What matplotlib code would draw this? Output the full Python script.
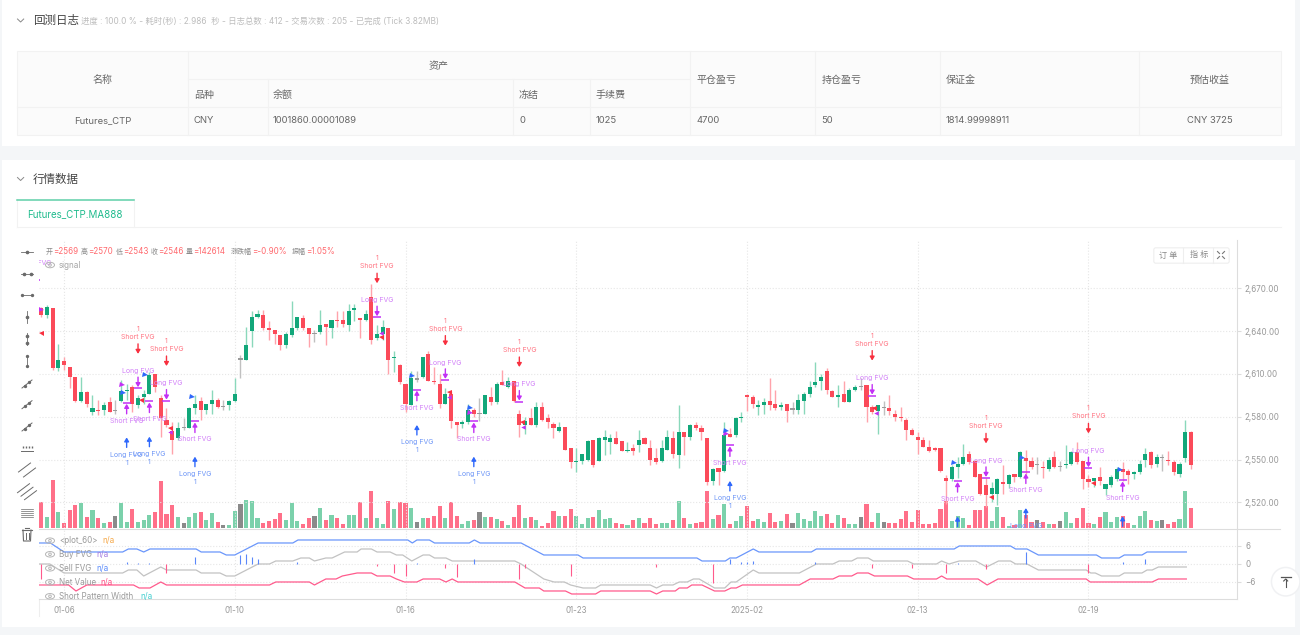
import matplotlib
matplotlib.use("Agg")
import matplotlib.pyplot as plt
from matplotlib.patches import Rectangle, FancyBboxPatch, Circle, Ellipse

FONT = ["Inter", "Noto Sans CJK SC", "DejaVu Sans"]
plt.rcParams["font.family"] = FONT

# --- market data ---
opens = [2656,2651,2656,2614,2619,2615,2608,2591,2597,2583,2585,2585,2590,2584,2591,2598,2601,2588,2594,2596,
 2610,2593,2578,2570,2565,2572,2572,2586,2591,2585,2589,2592,2587,2588,2591,2620,2620,2640,2650,2651,
 2642,2641,2637,2630,2637,2642,2649,2642,2638,2639,2645,2642,2648,2648,2644,2655,2649,2648,2664,2635,
 2638,2642,2621,2616,2603,2588,2606,2608,2624,2605,2603,2589,2596,2576,2575,2576,2585,2582,2582,2594,
 2590,2604,2601,2605,2582,2574,2579,2574,2587,2579,2575,2570,2573,2558,2548,2549,2550,2564,2549,2564,
 2562,2565,2563,2556,2558,2560,2565,2558,2551,2549,2557,2565,2553,2569,2566,2574,2572,2565,2535,2544,
 2542,2568,2567,2579,2595,2594,2587,2588,2591,2589,2587,2589,2585,2585,2591,2596,2602,2605,2612,2598,
 2594,2596,2590,2599,2601,2602,2587,2584,2586,2586,2582,2580,2578,2571,2566,2564,2559,2558,2558,2537,
 2536,2545,2547,2554,2549,2540,2532,2526,2526,2534,2533,2540,2538,2551,2549,2546,2545,2543,2552,2545,
 2546,2547,2555,2549,2536,2535,2538,2529,2532,2536,2543,2542,2540,2541,2550,2555,2547,2551,2550,2548,
 2540,2551,2569]
highs = [2657,2658,2656,2631,2622,2615,2608,2608,2598,2595,2592,2590,2594,2592,2606,2603,2602,2595,2599,2611,
 2610,2595,2586,2576,2576,2579,2587,2595,2594,2589,2599,2593,2592,2592,2607,2623,2643,2654,2655,2655,
 2647,2641,2637,2639,2661,2650,2651,2642,2641,2655,2645,2648,2654,2654,2659,2659,2649,2655,2673,2644,
 2648,2642,2626,2617,2603,2612,2612,2622,2626,2615,2610,2600,2598,2576,2578,2589,2586,2593,2595,2601,
 2604,2613,2608,2605,2585,2580,2586,2590,2590,2582,2576,2576,2573,2558,2558,2554,2564,2564,2566,2571,
 2568,2570,2563,2562,2561,2571,2566,2564,2558,2564,2571,2570,2588,2569,2575,2576,2574,2565,2544,2544,
 2576,2572,2580,2583,2596,2595,2592,2593,2607,2599,2590,2589,2590,2596,2597,2605,2618,2610,2614,2599,
 2602,2605,2600,2602,2607,2602,2588,2588,2591,2595,2585,2587,2579,2572,2569,2566,2564,2559,2558,2539,
 2546,2552,2561,2556,2550,2540,2537,2534,2537,2546,2540,2540,2556,2557,2552,2552,2549,2552,2556,2549,
 2560,2556,2562,2549,2539,2537,2545,2533,2539,2545,2548,2543,2542,2550,2558,2556,2554,2554,2556,2550,
 2548,2578,2570]
lows = [2650,2649,2613,2612,2613,2600,2590,2590,2587,2581,2581,2581,2583,2582,2590,2592,2583,2586,2589,2596,
 2597,2566,2573,2554,2564,2571,2572,2582,2578,2582,2582,2586,2585,2585,2590,2607,2620,2629,2649,2641,
 2634,2631,2627,2628,2636,2641,2641,2629,2632,2638,2630,2635,2643,2643,2640,2647,2635,2647,2631,2634,
 2634,2610,2611,2603,2583,2588,2604,2607,2605,2603,2586,2589,2572,2565,2572,2575,2580,2577,2582,2588,
 2589,2602,2600,2590,2566,2568,2574,2573,2577,2572,2565,2569,2557,2544,2541,2547,2549,2545,2549,2553,
 2554,2561,2556,2555,2553,2555,2561,2546,2547,2548,2557,2551,2544,2553,2564,2571,2564,2532,2532,2532,
 2541,2566,2566,2576,2584,2586,2581,2582,2585,2585,2585,2576,2582,2582,2582,2594,2601,2599,2596,2594,
 2587,2590,2590,2598,2599,2576,2582,2568,2581,2581,2577,2577,2564,2567,2554,2559,2555,2556,2541,2519,
 2535,2537,2546,2547,2538,2525,2517,2520,2518,2526,2530,2534,2537,2540,2543,2540,2537,2542,2544,2542,
 2544,2546,2547,2529,2531,2531,2532,2525,2531,2535,2535,2533,2536,2540,2545,2544,2545,2542,2546,2539,
 2538,2548,2543]
closes = [2651,2657,2614,2620,2616,2608,2591,2597,2589,2586,2584,2588,2583,2584,2598,2599,2589,2593,2596,2609,
 2601,2579,2574,2564,2572,2572,2586,2589,2585,2589,2592,2587,2587,2591,2596,2620,2630,2650,2652,2642,
 2641,2638,2630,2638,2642,2650,2642,2638,2638,2644,2643,2648,2647,2645,2654,2656,2648,2652,2634,2638,
 2643,2620,2622,2604,2589,2607,2606,2622,2605,2604,2589,2596,2577,2574,2576,2585,2582,2582,2595,2590,
 2603,2602,2605,2591,2574,2577,2574,2587,2578,2576,2572,2573,2557,2548,2549,2554,2563,2546,2565,2566,
 2565,2561,2556,2557,2556,2564,2561,2550,2548,2558,2566,2554,2569,2566,2574,2572,2569,2534,2543,2541,
 2567,2566,2579,2580,2594,2589,2588,2590,2588,2586,2588,2584,2585,2592,2596,2601,2604,2608,2599,2594,
 2595,2590,2599,2601,2601,2587,2583,2588,2586,2584,2580,2579,2571,2567,2564,2559,2556,2557,2542,2535,
 2545,2547,2552,2548,2538,2526,2525,2530,2536,2533,2539,2538,2555,2549,2545,2546,2544,2550,2545,2545,
 2547,2555,2548,2536,2534,2537,2535,2533,2538,2543,2541,2539,2541,2547,2554,2546,2552,2551,2549,2541,
 2547,2569,2546]
# volume in thousands of lots
volumes = [187,79,348,115,41,132,168,180,79,132,72,41,48,86,180,48,137,43,60,96,
 113,336,103,168,84,36,79,110,113,60,110,43,24,24,125,173,202,192,74,36,
 55,70,106,60,180,53,31,72,86,142,60,94,72,34,96,96,185,74,264,74,
 34,197,139,187,178,146,46,74,72,86,163,74,187,89,29,53,60,120,79,79,
 65,53,26,84,166,77,79,60,17,38,125,86,91,137,86,31,72,79,132,70,
 72,36,31,24,58,77,41,74,29,36,38,58,192,74,29,38,43,264,65,96,
 173,31,53,89,163,55,70,46,110,43,55,103,41,108,70,55,122,91,101,38,
 98,72,31,31,79,175,46,108,43,41,38,70,125,46,130,31,29,36,139,192,
 53,91,74,24,132,132,156,53,149,82,17,24,132,96,46,60,43,29,29,55,
 120,38,74,142,38,31,82,113,46,84,91,38,22,89,122,60,55,62,31,46,
 67,264,143]

price_ticks = [2520, 2550, 2580, 2610, 2640, 2670]
date_ticks = [4, 34, 64, 94, 124, 154, 184]
date_labels = ["01-06", "01-10", "01-16", "01-23", "2025-02", "02-13", "02-19"]

# signals: candle number and price at the arrow tip
short_i = [17, 22, 59, 71, 84, 146, 166, 184]
short_tip = [2624, 2615.5, 2673.5, 2629.8, 2614.8, 2619.3, 2561.3, 2568.3]
close_long_i = [-1, 17, 22, 59, 71, 84, 146, 166, 184]
close_long_tip = [2675.6, 2599.9, 2591.2, 2649.6, 2605.7, 2590.5, 2594.7, 2537, 2543.8]
close_short_i = [15, 19, 27, 66, 76, 121, 161, 173, 190]
close_short_tip = [2589.8, 2590.7, 2576.7, 2599, 2576.7, 2560, 2535, 2541, 2535.4]
long_i = [15, 19, 27, 66, 76, 121, 161, 173, 190]
long_tip = [2565.5, 2566, 2552, 2574.2, 2552, 2535, 2510, 2516, 2510.2]

tri_blue_i = [14.4, 18.3, 26.4, 65.2, 75.3, 120.3, 160.4, 172.4, 189.5]
tri_blue_p = [2596.4, 2609.2, 2594, 2608.5, 2585.8, 2570.2, 2547.3, 2550.8, 2542.6]
tri_purple_i = [0, 14.1, 75.4, 120.3]
tri_purple_p = [2654.8, 2602, 2582.3, 2567.9]
tri_red_i = [0, 17.6, 22.7, 59.7, 71.7, 84.4, 146.4, 166.8, 184.8]
tri_red_p = [2638.9, 2592, 2572.3, 2636, 2597.5, 2576.5, 2585.8, 2523.9, 2533.7]
tri_plum_i = [22.7, 59.7, 71.7, 84.7, 146.7]
tri_plum_p = [2569, 2638.4, 2594, 2573, 2582.8]

# lower pane, vertices of the three lines
blue_i = [-0.4,1.6,4,14.3,15.3,16.8,18,19.1,27.2,28.1,31.4,32.5,34,38.1,44.2,45.1,64.4,65.2,66,68.2,69.1,75.2,76.1,77.1,84.3,88.3,94.3,95.2,115.2,116.1,120.2,121,122.1,125.1,126.1,135.3,136.2,160.4,161.3,170.3,171.2,173.2,175.2,185.4,186.3,189.4,190.3,193.4,194.3,201.2]
blue_v = [7,7,4,4,5,5,4,5,5,4,4,3,3,7,7,8,8,7,8,8,7,7,8,7,7,3,3,2,2,1,1,2,2,5,4,4,5,5,6,6,5,5,3,3,2,2,3,3,4,4]
gray_i = [-0.4,1.5,4,14.3,15.3,16.8,18,21,22,27.2,28.1,31.4,32.5,34,38.1,40.1,41.2,44.2,45.6,47.1,48,50,51.1,53.3,55.5,56.2,58,59,61.3,62.4,63.5,65.1,67.1,68.2,69.1,71.1,72.2,83.2,84.3,88.3,90.1,91.9,93,95.2,97.4,98.3,107,108.1,109.2,111,112.1,113.5,114.6,115.6,118.3,120.1,121.2,122.1,125.1,126.1,133.2,136.2,139.1,140.2,142.4,143.4,145.3,146.2,152.2,153.3,157.3,158.2,159.5,161.3,164.2,166.1,168.2,170.3,171.2,173.2,175.2,183.6,184.4,185.2,186.3,189.4,190.3,193.4,194.3,195.2,196.3,201.2]
gray_v = [0,0,-3,-3,-2,-2,-4,-1,-2,-2,-3,-3,-4,-4,0,0,1,1,2,2,1,2,2,4,4,5,5,4,4,3,3,1,3,3,2,2,1,1,0,-5,-6,-6,-7,-8,-8,-7,-7,-8,-7,-7,-6,-6,-5,-5,-8,-8,-6,-6,-2,-3,-3,0,0,1,1,2,2,1,1,0,0,1,0,1,1,-1,1,1,0,0,-2,-2,-3,-3,-4,-4,-3,-3,-2,-2,-1,-1]
net_i = [-0.4,4.8,6.1,8,16.2,17.2,19.1,21,22,40.1,41.2,47.1,48,50,51.8,52.9,55.5,58,59,61.3,62.4,63.8,66,67.1,70,71.1,72.2,73.2,83.2,85,87.5,88.3,92.1,93.2,97.4,98.3,107,108.1,109.2,111.4,112.1,113.5,114.3,116.1,118.3,120.1,121.2,122.1,123.2,133.2,135.1,139.1,140.2,142.4,143.4,145.3,146.4,152.2,153.3,157.3,158.2,159.1,164.6,166.2,168.1,183.6,184.3,195.2,196.3,201.2]
net_v = [-7,-7,-9,-7,-7,-8,-8,-6,-7,-7,-6,-6,-7,-5,-5,-4,-3,-3,-4,-4,-5,-6,-6,-5,-5,-6,-5,-6,-6,-8,-8,-9,-9,-10,-10,-9,-9,-10,-9,-9,-8,-8,-7,-7,-9,-9,-8,-8,-7,-7,-5,-5,-4,-4,-3,-3,-4,-4,-5,-5,-4,-5,-5,-7,-5,-5,-6,-6,-5,-5]
buy_i = [15,17,19,27,35,36,37,38,45,66,76,121,123,124,125,136,161,173,190,194]
buy_v = [0.8,0.2,0.4,2.3,3,3.2,2.3,1.5,0.5,0.4,1.5,1.7,0.5,0.5,1,0.5,0.3,3.9,0.5,1.7]
sell_i = [0,22,59,62,64,71,73,84,85,93,108,118,146,153,159,166,184]
sell_v = [-5,-2.9,-0.7,-3.1,-3.9,-1.2,-4.4,-5,-1.2,-3.9,-0.9,-6.4,-1.2,-1.2,-2.9,-1.7,-2.9]
pane_ticks = [6, 0, -6]

RED, GREEN, GRAY = "#fb4a59", "#12a77a", "#9a9a9a"
WICK_RED, WICK_GREEN, WICK_GRAY = "#ffa3ab", "#8ad8bb", "#c0c0c0"
VOL_RED, VOL_GREEN, VOL_GRAY = "#ff7089", "#7bd1ab", "#8a8a8a"
PURPLE, BLUE = "#c230f5", "#2f68fb"

W, H = 1300, 635
fig = plt.figure(figsize=(W / 100, H / 100), dpi=100, facecolor="#f4f6f8")


def px_axes(left, top, right, bottom, **kw):
    return fig.add_axes([left / W, 1 - bottom / H, (right - left) / W, (bottom - top) / H], **kw)


# --- page: cards and table ---
bg = px_axes(0, 0, W, H)
bg.set_xlim(0, W)
bg.set_ylim(H, 0)
bg.axis("off")
bg.add_patch(Rectangle((2, 0), 1293, 145.6, fc="white", ec="none"))
bg.add_patch(Rectangle((2, 160), 1293, 467, fc="white", ec="none"))

LINE = "#f2f2f2"
bg.add_patch(Rectangle((16.6, 51), 1264, 83.7, fc="#fbfbfb", ec=LINE, lw=0.8))
for x in [187.5, 690, 815, 939.6, 1138.8]:
    bg.plot([x, x], [51, 134.7], color=LINE, lw=0.8)
for x in [267.6, 512.9, 590]:
    bg.plot([x, x], [79, 134.7], color=LINE, lw=0.8)
bg.plot([187.5, 690], [79, 79], color=LINE, lw=0.8)
bg.plot([16.6, 1280.6], [107.3, 107.3], color=LINE, lw=0.8)


def put(ax, x, y, s, size=6.8, color="#666666", ha="left", **kw):
    ax.text(x, y, s, fontsize=size, color=color, ha=ha, va="center", family=FONT, **kw)


put(bg, 33, 21, "回测日志", size=8.3, color="#444444", weight="medium")
put(bg, 81, 21.5, "进度 : 100.0 % - 耗时(秒) : 2.986  秒 - 日志总数 : 412 - 交易次数 : 205 - 已完成 (Tick 3.82MB)", size=6, color="#bdbdbd")
put(bg, 33, 180, "行情数据", size=8.3, color="#444444", weight="medium")
for cy in [20.5, 179]:
    bg.plot([17.5, 20.6, 23.7], [cy - 1.5, cy + 1.5, cy - 1.5], color="#888888", lw=0.7)

put(bg, 102.5, 80, "名称", size=7.2, ha="center")
put(bg, 439, 66.5, "资产", size=7.2, ha="center")
for x, s in [(194, "品种"), (273, "余额"), (519, "冻结"), (596, "手续费"), (696.5, "平仓盈亏"), (821.5, "持仓盈亏"), (946, "保证金")]:
    put(bg, x, 94.8 if x < 690 else 80, s, size=7.2)
put(bg, 1209.5, 80, "预估收益", size=7.2, ha="center")
put(bg, 102.5, 120.5, "Futures_CTP", ha="center")
for x, s in [(194, "CNY"), (273, "1001860.00001089"), (519, "0"), (596, "1025"), (696.5, "4700"), (821.5, "50"), (946, "1814.99998911")]:
    put(bg, x, 120.5, s)
put(bg, 1209.5, 120.5, "CNY 3725", ha="center")

# tab
bg.plot([16.6, 1280.6], [227, 227], color=LINE, lw=0.8)
bg.plot([16.6, 16.6], [199, 227], color=LINE, lw=0.8)
bg.plot([134, 134], [199, 227], color=LINE, lw=0.8)
bg.plot([16.6, 134], [199.5, 199.5], color="#5fcfa8", lw=1.1)
put(bg, 75.3, 214, "Futures_CTP.MA888", size=7, color="#1fbb8d", ha="center")
bg.plot([39, 1280], [528.5, 528.5], color="#dddddd", lw=0.8)
bg.plot([39, 39], [599, 616], color="#eeeeee", lw=0.8)

# --- candles and volume ---
ax_vol = px_axes(39, 240, 1237, 528.3)
ax = px_axes(39, 240, 1237, 528.3, sharex=ax_vol)
ax.patch.set_visible(False)
ax_vol.patch.set_visible(False)

days = list(range(len(closes)))
body_c, wick_c, vol_c = [], [], []
for o, c in zip(opens, closes):
    if c > o:
        body_c.append(GREEN); wick_c.append(WICK_GREEN); vol_c.append(VOL_GREEN)
    elif c < o:
        body_c.append(RED); wick_c.append(WICK_RED); vol_c.append(VOL_RED)
    else:
        body_c.append(GRAY); wick_c.append(WICK_GRAY); vol_c.append(VOL_GRAY)

ax_vol.bar(days, volumes, width=0.72, color=vol_c)
ax_vol.set_ylim(0, 143 * 288.3 / 20)
ax_vol.axis("off")

ax.vlines(days, lows, highs, colors=wick_c, lw=1, zorder=2)
body_low = [min(o, c) for o, c in zip(opens, closes)]
body_h = [max(abs(o - c), 0.8) for o, c in zip(opens, closes)]
ax.bar(days, body_h, bottom=body_low, width=0.72, color=body_c, zorder=3)

ax.set_xlim(-0.4, 210.1)
ax.set_ylim(2501.8, 2703.8)
ax.set_yticks(price_ticks)
ax.set_yticklabels([f"{p:,.2f}" for p in price_ticks])
ax.yaxis.tick_right()
ax.set_xticks(date_ticks)
ax.tick_params(axis="x", length=0, labelbottom=False)
ax.tick_params(axis="y", length=3, width=0.8, color="#dddddd", labelcolor="#999999", labelsize=5.8, pad=2)
ax.grid(True, ls=":", color="#e6e6e6", lw=0.8)
ax.set_axisbelow(True)
for name, sp in ax.spines.items():
    sp.set_visible(name == "right")
    sp.set_color("#dddddd")
    sp.set_linewidth(0.8)


# --- signals ---
def arrow(i, tip, dy, color, lw=1.0):
    ax.annotate("", xy=(i, tip), xytext=(0, dy), textcoords="offset pixels",
                arrowprops=dict(arrowstyle="-|>,head_width=0.15,head_length=0.25", color=color, lw=lw,
                                shrinkA=0, shrinkB=0, mutation_scale=9), zorder=6)


def label(i, tip, dy, s, color):
    ax.annotate(s, xy=(i, tip), xytext=(0, dy), textcoords="offset pixels", fontsize=5, color=color,
                ha="center", va="center", family=FONT, annotation_clip=False, clip_on=True, zorder=7)


for i, tip in zip(short_i, short_tip):
    arrow(i, tip, 10, "#f8303f")
    label(i, tip, 17, "Short FVG", "#ff7583")
    label(i, tip, 25, "1", "#ff7583")
for i, tip in zip(close_long_i, close_long_tip):
    arrow(i, tip + 0.8, 10, PURPLE)
    ax.plot([i], [tip], marker="_", ms=6, mew=1.1, color=PURPLE, zorder=6)
    label(i, tip, 17.5, "Long FVG", "#d281f8")
for i, tip in zip(close_short_i, close_short_tip):
    arrow(i, tip - 0.8, -10, PURPLE)
    ax.plot([i], [tip], marker="_", ms=6, mew=1.1, color=PURPLE, zorder=6)
    label(i, tip, -18, "Short FVG", "#d281f8")
for i, tip in zip(long_i, long_tip):
    arrow(i, tip, -10, BLUE)
    label(i, tip, -17.5, "Long FVG", "#6f97f7")
    label(i, tip, -25.5, "1", "#6f97f7")

ax.plot(tri_purple_i, tri_purple_p, ls="", marker=">", ms=3.6, mew=0, color=PURPLE, zorder=5)
ax.plot(tri_blue_i, tri_blue_p, ls="", marker=">", ms=3.6, mew=0, color=BLUE, zorder=5)
ax.plot(tri_plum_i, tri_plum_p, ls="", marker="<", ms=3.2, mew=0, color=PURPLE, zorder=5)
ax.plot(tri_red_i, tri_red_p, ls="", marker="<", ms=3.6, mew=0, color="#f8303f", zorder=5)

# --- lower pane ---
pane = px_axes(39, 528.5, 1237, 599, sharex=ax_vol)
pane.patch.set_visible(False)
pane.set_ylim(-11.67, 11.83)
pane.plot(blue_i, blue_v, color="#6a96fb", lw=0.9, zorder=3)
pane.plot(gray_i, gray_v, color="#c2c2c2", lw=0.9, zorder=3)
pane.plot(net_i, net_v, color="#ff5a8c", lw=0.9, zorder=3)
pane.vlines(buy_i, 0, buy_v, colors="#5a87fb", lw=0.8, zorder=4)
pane.vlines(sell_i, 0, sell_v, colors="#ff5a8c", lw=0.8, zorder=4)
pane.set_yticks(pane_ticks)
pane.yaxis.tick_right()
pane.set_xticks(date_ticks)
pane.set_xticklabels(date_labels)
pane.tick_params(axis="x", length=0, labelcolor="#999999", labelsize=5.7, pad=5)
pane.tick_params(axis="y", length=3, width=0.8, color="#dddddd", labelcolor="#999999", labelsize=5.8, pad=3)
pane.grid(True, ls=":", color="#e6e6e6", lw=0.8)
pane.set_axisbelow(True)
for name, sp in pane.spines.items():
    sp.set_visible(name in ("right", "bottom"))
    sp.set_color("#dddddd")
    sp.set_linewidth(0.8)

# --- overlay: readout, legends, tools ---
top = px_axes(0, 0, W, H)
top.set_xlim(0, W)
top.set_ylim(H, 0)
top.axis("off")
top.patch.set_visible(False)

readout_x = [46, 53.3, 81, 88.3, 116.3, 123.3, 151, 158.3, 186, 193.3, 230.7, 251.7, 291.7, 305.7]
readout = ["开", "=2569", "高", "=2570", "低", "=2543", "收", "=2546", "量", "=142614", "涨跌幅", "=-0.90%", "振幅", "=1.05%"]
for n, (x, s) in enumerate(zip(readout_x, readout)):
    if n % 2:
        put(top, x, 251, s, size=5.8, color="#ff6a6f")
    else:
        put(top, x, 251.5, s, size=5, color="#8a8a8a")


def eye(y):
    top.add_patch(Ellipse((50, y), 9, 5.5, fc="none", ec="#b5b5b5", lw=0.7))
    top.add_patch(Circle((50, y), 1.3, fc="none", ec="#b5b5b5", lw=0.7))


eye(265)
put(top, 59, 265, "signal", size=5.8, color="#a5a5a5")
legend_y = [540.7, 554.3, 568.3, 582.3, 596.3]
legend_names = ["<plot_60>", "Buy FVG", "Sell FVG", "Net Value", "Short Pattern Width"]
legend_na_x = [102, 96.7, 96.3, 100.8, 140.7]
legend_na_c = ["#f5a94a", "#a37be0", "#5a8bfb", "#ff4d83", "#45cfd0"]
for y, s, nx, nc in zip(legend_y, legend_names, legend_na_x, legend_na_c):
    eye(y)
    put(top, 59, y, s, size=5.8, color="#9a9a9a")
    put(top, nx, y, "n/a", size=5.8, color=nc)

# buttons at the top right of the chart
top.add_patch(FancyBboxPatch((1155, 249), 73, 13, boxstyle="round,pad=1.2,rounding_size=2", fc="white", ec="#eeeeee", lw=0.8))
top.plot([1183.3, 1183.3], [248, 263], color="#eeeeee", lw=0.8)
top.plot([1213.3, 1213.3], [248, 263], color="#eeeeee", lw=0.8)
put(top, 1168, 255, "订 单", size=5.8, color="#888888", ha="center")
put(top, 1198.7, 255, "指 标", size=5.8, color="#888888", ha="center")
for sx, sy in [(-1, -1), (1, -1), (-1, 1), (1, 1)]:
    top.plot([1221 + sx * 1.5, 1221 + sx * 3.5], [255 + sy * 1.5, 255 + sy * 3.5], color="#777777", lw=0.8)

# back to top button
for r, c in [(15, "#f0f1f3"), (13.5, "white")]:
    top.add_patch(Circle((1285.7, 581.7), r, fc=c, ec="none", clip_on=False))
top.plot([1280.5, 1291], [577, 577], color="#555555", lw=0.9)
top.plot([1285.7, 1285.7], [579, 587], color="#555555", lw=0.8)
top.plot([1283.7, 1285.7, 1287.7], [581, 579, 581], color="#555555", lw=0.8)

# drawing tools down the left side
TOOL = "#6a6a6a"
tx = 27
for y, dots in [(252, [0]), (273.7, [-3.5, 3.5])]:
    top.plot([tx - 6, tx + 6], [y, y], color=TOOL, lw=0.6)
    top.plot([tx + d for d in dots], [y] * len(dots), "o", ms=1.6, color=TOOL)
top.plot([tx - 6, tx + 6], [295, 295], color=TOOL, lw=0.6)
top.plot([tx - 5, tx + 5], [295, 295], "o", ms=1.4, color=TOOL)
for y, dots in [(317, [0]), (339, [-3.5, 3.5])]:
    top.plot([tx, tx], [y - 6, y + 6], color=TOOL, lw=0.6)
    top.plot([tx] * len(dots), [y + d for d in dots], "o", ms=1.6, color=TOOL)
top.plot([tx, tx], [355, 366.5], color=TOOL, lw=0.6)
top.plot([tx, tx], [355.5, 366], "o", ms=1.4, color=TOOL)
for y in [384, 404.7, 427]:
    top.plot([tx - 5, tx + 5], [y + 4, y - 4], color=TOOL, lw=0.7)
    top.plot([tx - 2, tx + 2], [y + 1.6, y - 1.6], "o", ms=1.4, color=TOOL)
top.plot([tx - 6, tx + 6], [450.5, 450.5], color=TOOL, lw=0.7)
top.plot([tx - 4, tx - 1, tx + 2, tx + 5], [447, 447, 447, 447], ls="", marker="|", ms=2, color=TOOL)
for off in [-2.5, 2.5]:
    top.plot([tx - 6 + off, tx + 6 + off], [470 + 4.5 + off, 470 - 4.5 + off], color=TOOL, lw=0.7)
for off in [-3.5, 0, 3.5]:
    top.plot([tx - 6 + off, tx + 6 + off], [491.7 + 4.5 + off, 491.7 - 4.5 + off], color=TOOL, lw=0.7)
for y in [509, 511, 513, 515, 517]:
    top.plot([tx - 6, tx + 6], [y, y], color=TOOL, lw=0.5)
top.plot([tx - 5, tx + 5], [529.5, 529.5], color=TOOL, lw=0.8)
top.plot([tx - 4, tx - 3.5, tx + 3.5, tx + 4], [530, 541, 541, 530], color=TOOL, lw=0.8)
top.plot([tx - 1.5, tx - 1.5], [532.5, 538.5], color=TOOL, lw=0.7)
top.plot([tx + 1.5, tx + 1.5], [532.5, 538.5], color=TOOL, lw=0.7)
top.plot([tx - 2, tx + 2], [528, 528], color=TOOL, lw=0.8)

fig.savefig("out.png", dpi=100, facecolor=fig.get_facecolor())
